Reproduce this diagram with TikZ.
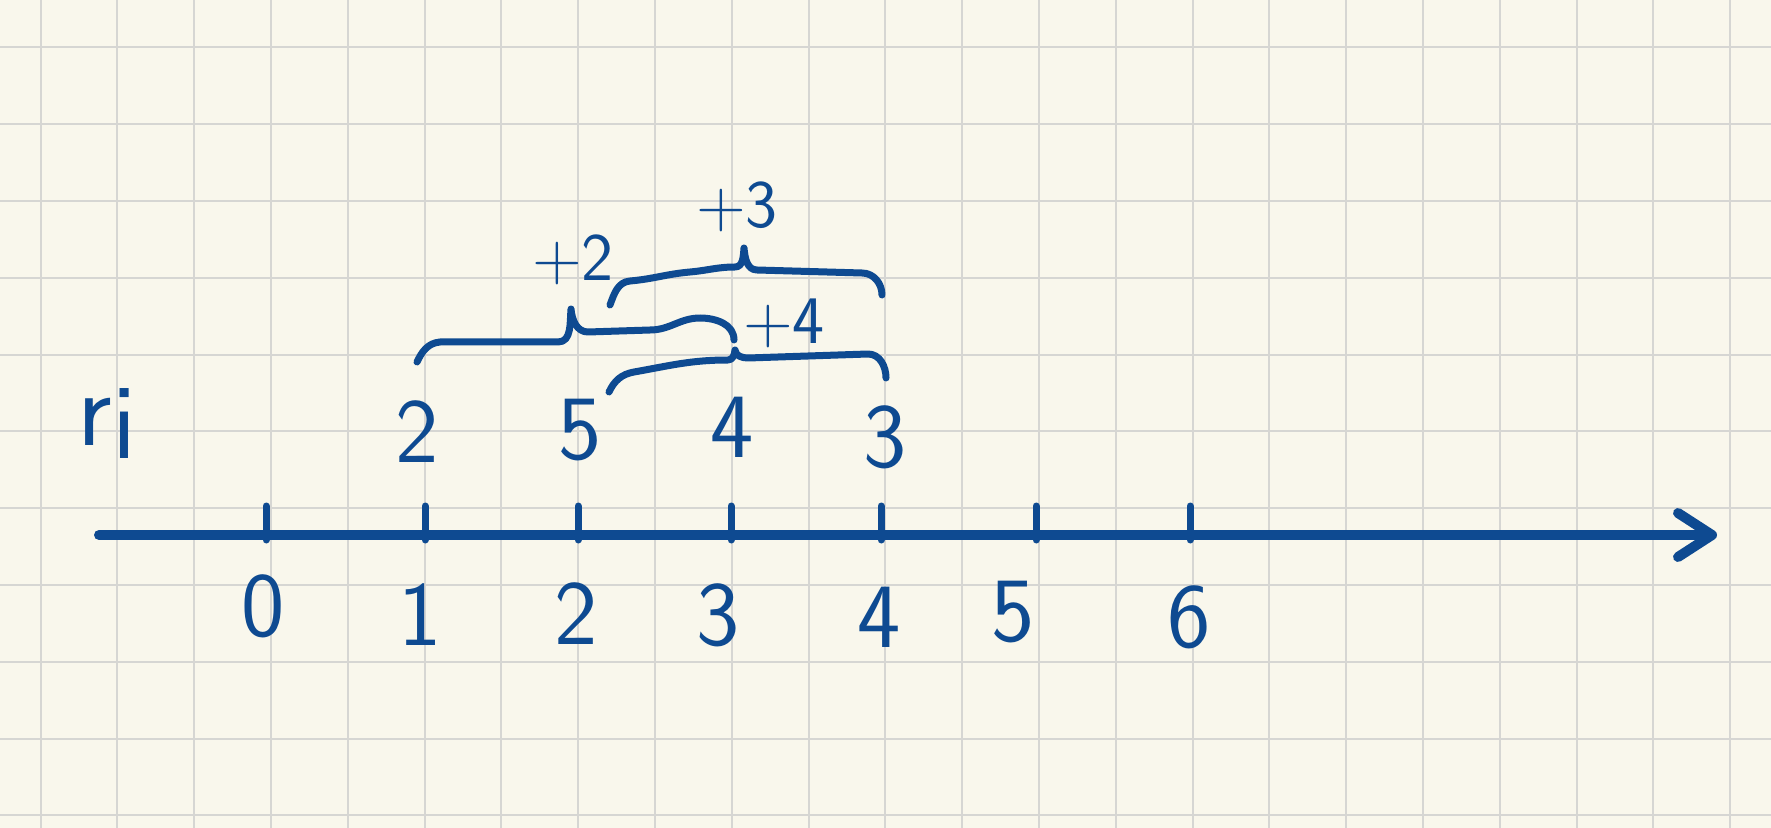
\documentclass[tikz,border=0pt]{standalone}
\usepackage{fontspec}
\usetikzlibrary{arrows.meta}
\definecolor{ink}{HTML}{0E4A91}
\definecolor{paper}{HTML}{F9F7EC}
\definecolor{gridline}{HTML}{D6D6D3}

\begin{document}
\begin{tikzpicture}[x=0.5pt,y=-0.5pt,
  pen/.style={ink,line width=3.5pt,line cap=round,line join=round},
  digit/.style={text=ink,inner sep=0pt,font=\sffamily\fontsize{46}{50}\selectfont},
  gain/.style={text=ink,inner sep=0pt,font=\sffamily\fontsize{34}{38}\selectfont}]
\fill[paper] (0,0) rectangle (1771,828);
\useasboundingbox (0,0) rectangle (1771,828);
\foreach \k in {0,...,22}
  \draw[gridline,line width=1pt] (40.5+76.8*\k,0) -- (40.5+76.8*\k,828);
\foreach \k in {0,...,10}
  \draw[gridline,line width=1pt] (0,47.4+76.8*\k) -- (1771,47.4+76.8*\k);

% number line
\coordinate (start) at (99,535);
\coordinate (end) at (1717,535);
\draw[pen,line width=5pt,-{Straight Barb[length=17pt,width=22pt,round]}] (start) -- (end);
\foreach \tx/\lx/\ly [count=\n from 0] in {266/263/606,425/420/615,578/576/614,731/718/615,881/879/617,1036/1013/612,1190/1189/617}
{
  \draw[pen] (\tx,506) -- (\tx,540);
  \node[digit] (x\n) at (\lx,\ly) {\n};
}

% values r_i
\node[digit,font=\sffamily\fontsize{54}{58}\selectfont] (r) at (107,424) {r\raisebox{-.3ex}{i}};
\node[digit] (v1) at (417,432) {2};
\node[digit] (v2) at (580,430) {5};
\node[digit] (v3) at (732,427) {4};
\node[digit] (v4) at (885,437) {3};

% braces
\draw[pen] (417,362) to[out=65,in=185] (440,342) -- (558,342) to[out=0,in=-95] (571,309)
  to[out=-85,in=180] (588,332) -- (650,330) to[out=0,in=180] (700,318) to[out=0,in=90] (734,340);
\draw[pen] (610,305) to[out=70,in=185] (630,281) to[out=5,in=185] (690,272) to[out=5,in=180] (735,267)
  to[out=0,in=-95] (744,248) to[out=-85,in=180] (757,270) -- (862,273) to[out=0,in=90] (882,295);
\draw[pen] (609,392) to[out=65,in=190] (634,372) to[out=10,in=180] (728,360) to[out=0,in=-95] (735,350)
  to[out=-85,in=180] (748,358) -- (868,354) to[out=0,in=90] (886,378);
\node[gain] (g2) at (573,260) {+2};
\node[gain] (g3) at (737,207) {+3};
\node[gain] (g4) at (784,323) {+4};
\end{tikzpicture}
\end{document}
